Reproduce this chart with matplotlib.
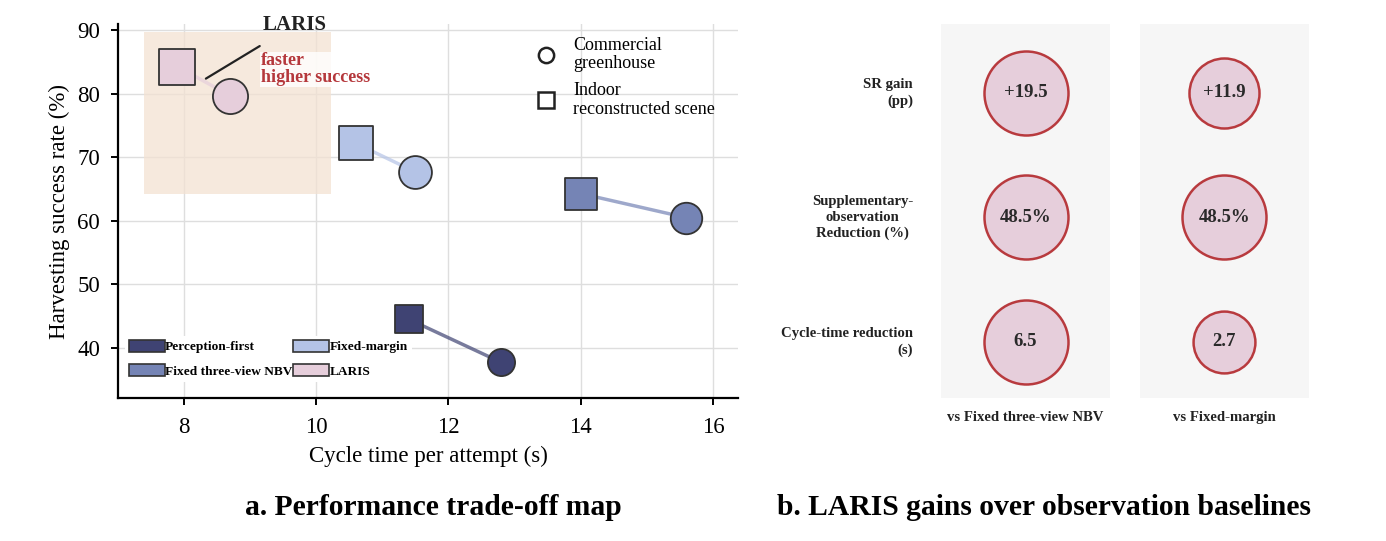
import matplotlib.pyplot as plt
import numpy as np
from matplotlib.patches import Patch
from matplotlib.lines import Line2D

plt.rcParams["font.family"] = ["Liberation Serif", "DejaVu Serif"]

# --- panel a data ---
methods = ["Perception-first", "Fixed three-view NBV", "Fixed-margin", "LARIS"]
indoor_time = [11.4, 14.0, 10.6, 7.9]
indoor_sr = [44.5, 64.3, 72.2, 84.3]
greenhouse_time = [12.8, 15.6, 11.5, 8.7]
greenhouse_sr = [37.7, 60.5, 67.7, 79.7]
method_colors = ["#3f4373", "#7584b5", "#b4c3e6", "#e6cedb"]

# --- panel b data ---
gain_rows = ["SR gain\n(pp)", "Supplementary-\nobservation\nReduction (%)", "Cycle-time reduction\n(s)"]
gain_cols = ["vs Fixed three-view NBV", "vs Fixed-margin"]
gain_values = [[19.5, 11.9], [48.5, 48.5], [6.5, 2.7]]
gain_labels = [["+19.5", "+11.9"], ["48.5%", "48.5%"], ["6.5", "2.7"]]

fig = plt.figure(figsize=(13.86, 5.41), dpi=100)

# ---------------- panel a ----------------
ax = fig.add_axes([0.0851, 0.2643, 0.4474, 0.6913])
ax.set_xlim(7.0, 16.38)
ax.set_ylim(32.1, 91.0)
ax.grid(True, color="#dedede", lw=1.0, zorder=0)
ax.set_axisbelow(True)

# highlighted region around LARIS
ax.fill_between([7.4, 10.22], 64.3, 89.7, color="#f3e2d2", alpha=0.75, lw=0, zorder=1)

for i, m in enumerate(methods):
    c = method_colors[i]
    ax.plot([indoor_time[i], greenhouse_time[i]], [indoor_sr[i], greenhouse_sr[i]],
            color=c, lw=2.5, alpha=0.7, zorder=2)
    s_sq = ((20 + 0.19 * indoor_sr[i]) * 0.72) ** 2
    s_ci = ((20 + 0.19 * greenhouse_sr[i]) * 0.72) ** 2
    ax.scatter(indoor_time[i], indoor_sr[i], s=s_sq, marker="s", color=c,
               edgecolor="#333333", lw=1.3, zorder=3)
    ax.scatter(greenhouse_time[i], greenhouse_sr[i], s=s_ci, marker="o", color=c,
               edgecolor="#333333", lw=1.3, zorder=3)

ax.annotate("LARIS", xy=(8.33, 82.4), xytext=(9.68, 90.9), ha="center", va="center",
            fontsize=15, fontweight="bold", color="#222222",
            arrowprops=dict(arrowstyle="-", color="#222222", lw=1.6, shrinkA=12, shrinkB=0),
            annotation_clip=False, zorder=5)
ax.text(9.16, 83.9, "faster\nhigher success", ha="left", va="center", fontsize=13,
        fontweight="bold", color="#b5383c", linespacing=0.95, zorder=5,
        bbox=dict(facecolor="white", edgecolor="none", alpha=0.8, pad=0.5))

for sp in ["top", "right"]:
    ax.spines[sp].set_visible(False)
for sp in ["left", "bottom"]:
    ax.spines[sp].set_linewidth(1.6)
ax.tick_params(labelsize=16.5, width=1.4, length=5)
ax.tick_params(axis="x", pad=9)
ax.tick_params(axis="y", pad=8)
ax.set_xticks([8, 10, 12, 14, 16])
ax.set_yticks([40, 50, 60, 70, 80, 90])
ax.set_xlabel("Cycle time per attempt (s)", fontsize=16.5, labelpad=5)
ax.set_ylabel("Harvesting success rate (%)", fontsize=16.5, labelpad=5)

shape_handles = [
    Line2D([], [], marker="o", ls="none", markersize=11, markerfacecolor="white",
           markeredgecolor="#222222", markeredgewidth=1.8),
    Line2D([], [], marker="s", ls="none", markersize=11, markerfacecolor="white",
           markeredgecolor="#222222", markeredgewidth=1.8),
]
leg1 = ax.legend(shape_handles, ["Commercial\ngreenhouse", "Indoor\nreconstructed scene"],
                 loc="upper right", bbox_to_anchor=(0.975, 0.985), frameon=False,
                 fontsize=13, handletextpad=0.5, labelspacing=0.55, borderaxespad=0)
for t in leg1.get_texts():
    t.set_linespacing(1.12)
ax.add_artist(leg1)

color_handles = [Patch(facecolor=c, edgecolor="#333333", lw=1.2) for c in method_colors]
leg2 = ax.legend(color_handles, methods, loc="lower left", bbox_to_anchor=(0.0, 0.025),
                 ncol=2, frameon=True, framealpha=1.0, edgecolor="none", fancybox=False,
                 prop={"size": 9.6, "weight": "bold"}, handlelength=2.7, handleheight=1.0,
                 handletextpad=0.0, columnspacing=0.1, labelspacing=0.85, borderpad=0.3)

fig.text(0.313, 0.062, "a. Performance trade-off map", ha="center", va="center",
         fontsize=21.3, fontweight="bold")

# ---------------- panel b ----------------
bx = fig.add_axes([0.6782, 0.2643, 0.2670, 0.6913])
bx.set_xlim(-0.43, 1.43)
bx.set_ylim(2.45, -0.554)
for j in range(len(gain_cols)):
    bx.axvspan(j - 0.427, j + 0.427, color="#f6f6f6", lw=0, zorder=0)

vals = np.array(gain_values)
for r in range(len(gain_rows)):
    row_max = vals[r].max()
    for j in range(len(gain_cols)):
        ratio = vals[r, j] / row_max
        size = (1528 + 5528 * ratio) * 0.72 ** 2
        bx.scatter(j, r, s=size, color="#e6cedb", edgecolor="#b83a3e", lw=1.8, zorder=2)
        bx.text(j, r, gain_labels[r][j], ha="center", va="center", fontsize=13.5,
                fontweight="bold", color="#2a2a2a", zorder=3)

for r, lab in enumerate(gain_rows):
    bx.text(-0.073, r, lab, transform=bx.get_yaxis_transform(), ha="right", va="center",
            fontsize=10.6, fontweight="bold", color="#222222", linespacing=1.3,
            multialignment="center" if r == 1 else "right")
for j, lab in enumerate(gain_cols):
    bx.text(j, 2.61, lab, ha="center", va="center", fontsize=10.6, fontweight="bold",
            color="#222222", clip_on=False)
bx.axis("off")

fig.text(0.753, 0.062, "b. LARIS gains over observation baselines", ha="center",
         va="center", fontsize=21.3, fontweight="bold")

fig.savefig("out.png", dpi=100)
